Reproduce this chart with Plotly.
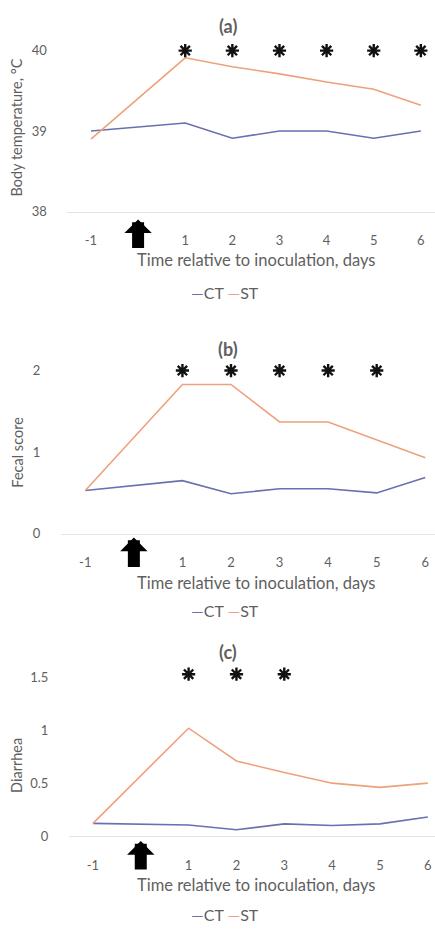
import plotly.graph_objects as go

W, H = 435, 933

days = [-1, 1, 2, 3, 4, 5, 6]
tick_vals = [-1, 0, 1, 2, 3, 4, 5, 6]
tick_text = ["-1", "", "1", "2", "3", "4", "5", "6"]

temp_ct = [39.0, 39.1, 38.91, 39.0, 39.0, 38.91, 39.0]
temp_st = [38.9, 39.91, 39.8, 39.71, 39.61, 39.52, 39.32]
temp_sig_days = [1, 2, 3, 4, 5, 6]

fecal_ct = [0.53, 0.65, 0.49, 0.55, 0.55, 0.50, 0.69]
fecal_st = [0.53, 1.83, 1.83, 1.37, 1.37, 1.15, 0.93]
fecal_sig_days = [1, 2, 3, 4, 5]

diar_ct = [0.12, 0.105, 0.06, 0.115, 0.10, 0.115, 0.18]
diar_st = [0.12, 1.02, 0.71, 0.60, 0.50, 0.46, 0.50]
diar_sig_days = [1, 2, 3]

panels = [
    dict(name="(a)", ytitle="Body temperature, °C", ct=temp_ct, st=temp_st, sig=temp_sig_days,
         sig_y=40.0, yrange=[38, 40.1], ytick=[38, 39, 40], yticktext=["38", "39", "40"],
         top=40, bottom=211, xl=67.4, xr=435, xrange=[-1.5, 6.3],
         title_y=23, xtitle_y=260, leg_y=293, ytitle_x=17, ytitle_y=126, arrow=(219, 249)),
    dict(name="(b)", ytitle="Fecal score", ct=fecal_ct, st=fecal_st, sig=fecal_sig_days,
         sig_y=2.0, yrange=[0, 2.06], ytick=[0, 1, 2], yticktext=["0", "1", "2"],
         top=367, bottom=537, xl=61, xr=435, xrange=[-1.5, 6.2],
         title_y=350, xtitle_y=587, leg_y=615, ytitle_x=18, ytitle_y=455, arrow=(541, 572)),
    dict(name="(c)", ytitle="Diarrhea", ct=diar_ct, st=diar_st, sig=diar_sig_days,
         sig_y=1.53, yrange=[0, 1.56], ytick=[0, 0.5, 1, 1.5], yticktext=["0", "0.5", "1", "1.5"],
         top=676, bottom=843, xl=69, xr=435, xrange=[-1.5, 6.15],
         title_y=657, xtitle_y=893, leg_y=922, ytitle_x=17, ytitle_y=772, arrow=(848, 878)),
]

CT_COLOR = "#6a6fb0"
ST_COLOR = "#eda17c"
TEXT = "#5f5f5f"
FONT = "Lato"

fig = go.Figure()
layout = dict(width=W, height=H, margin=dict(l=0, r=0, t=0, b=0),
              paper_bgcolor="white", plot_bgcolor="white", showlegend=False,
              font=dict(family=FONT, color=TEXT, size=12))
annotations = []

def py(p):
    return 1 - p / H

for i, p in enumerate(panels, start=1):
    xa = "x" if i == 1 else f"x{i}"
    ya = "y" if i == 1 else f"y{i}"
    fig.add_trace(go.Scatter(x=days, y=p["ct"], mode="lines", name="CT",
                             line=dict(color=CT_COLOR, width=1.6), xaxis=xa, yaxis=ya))
    fig.add_trace(go.Scatter(x=days, y=p["st"], mode="lines", name="ST",
                             line=dict(color=ST_COLOR, width=1.6), xaxis=xa, yaxis=ya))
    fig.add_trace(go.Scatter(x=p["sig"], y=[p["sig_y"]] * len(p["sig"]), mode="markers",
                             marker=dict(symbol="asterisk-open", size=11, color="#111",
                                         line=dict(color="#111", width=2.4)),
                             xaxis=xa, yaxis=ya, cliponaxis=False))
    layout[f"xaxis{'' if i == 1 else i}"] = dict(
        domain=[p["xl"] / W, min(p["xr"] / W, 1)], range=p["xrange"], anchor=ya,
        tickvals=tick_vals, ticktext=tick_text, showgrid=False, zeroline=False,
        showline=True, linecolor="#e4e4e4", linewidth=1,
        ticks="outside", ticklen=17, tickcolor="rgba(0,0,0,0)",
        tickfont=dict(family=FONT, color=TEXT, size=13))
    layout[f"yaxis{'' if i == 1 else i}"] = dict(
        domain=[py(p["bottom"]), py(p["top"])], range=p["yrange"], anchor=xa,
        tickvals=p["ytick"], ticktext=p["yticktext"], showgrid=False, zeroline=False,
        showline=False, ticks="outside", ticklen=17, tickcolor="rgba(0,0,0,0)",
        tickfont=dict(family=FONT, color=TEXT, size=13))
    annotations.append(dict(text=f"<b>{p['name']}</b>", x=0.523, y=py(p["title_y"]),
                            xref="paper", yref="paper", showarrow=False,
                            font=dict(family=FONT, size=18, color=TEXT), xanchor="center", yanchor="middle"))
    annotations.append(dict(text="Time relative to inoculation, days", x=0.589, y=py(p["xtitle_y"]),
                            xref="paper", yref="paper", showarrow=False,
                            font=dict(family=FONT, size=16.5, color=TEXT), xanchor="center", yanchor="middle"))
    annotations.append(dict(text=f"<span style='color:{CT_COLOR}'>—</span>CT "
                                 f"<span style='color:{ST_COLOR}'>—</span>ST",
                            x=0.517, y=py(p["leg_y"]), xref="paper", yref="paper", showarrow=False,
                            font=dict(family=FONT, size=16, color=TEXT), xanchor="center", yanchor="middle"))
    annotations.append(dict(text=p["ytitle"], x=p["ytitle_x"] / W, y=py(p["ytitle_y"]),
                            xref="paper", yref="paper", showarrow=False, textangle=-90,
                            font=dict(family=FONT, size=14.5, color=TEXT), xanchor="center", yanchor="middle"))
    a_top, a_bot = p["arrow"]
    annotations.append(dict(text="", x=0, y=py(a_top), xref=xa, yref="paper",
                            ax=0, ay=a_bot - a_top, axref="pixel", ayref="pixel",
                            showarrow=True, arrowhead=1, arrowsize=0.38, arrowwidth=12,
                            arrowcolor="black"))

layout["annotations"] = annotations
fig.update_layout(**layout)
fig.write_html("out.html")
